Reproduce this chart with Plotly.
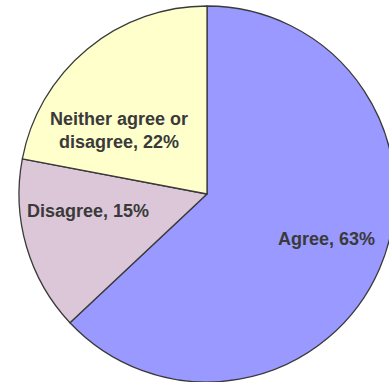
import plotly.graph_objects as go

labels = ["Agree", "Disagree", "Neither agree or<br>disagree"]
values = [63, 15, 22]
colors = ["#9999FF", "#DCC7D9", "#FFFFCC"]
# label centres (pixels) for the text boxes
label_px = [(326, 239), (88, 211), (119, 131)]

W, H = 400, 382
cx, cy, r = 207, 194, 188

fig = go.Figure(go.Pie(
    labels=labels,
    values=values,
    sort=False,
    direction="clockwise",
    rotation=0,
    marker=dict(colors=colors, line=dict(color="#3a3a3a", width=1.3)),
    textinfo="none",
    domain=dict(x=[(cx - r) / W, (cx + r) / W], y=[1 - (cy + r) / H, 1 - (cy - r) / H]),
    showlegend=False,
    hoverinfo="label+percent",
))
for lab, val, (px, py) in zip(labels, values, label_px):
    fig.add_annotation(
        text=f"<b>{lab}, {val}%</b>",
        x=px / W, y=1 - py / H, xref="paper", yref="paper",
        xanchor="center", yanchor="middle", showarrow=False,
        font=dict(family="Liberation Sans, Arial, sans-serif", size=18, color="#3a3a3a"),
    )
fig.update_layout(width=W, height=H, autosize=False,
                  margin=dict(l=0, r=0, t=0, b=0),
                  paper_bgcolor="white", plot_bgcolor="white")
fig.write_html("out.html",
               post_script="document.body.style.overflow='hidden';document.documentElement.style.overflow='hidden';")
